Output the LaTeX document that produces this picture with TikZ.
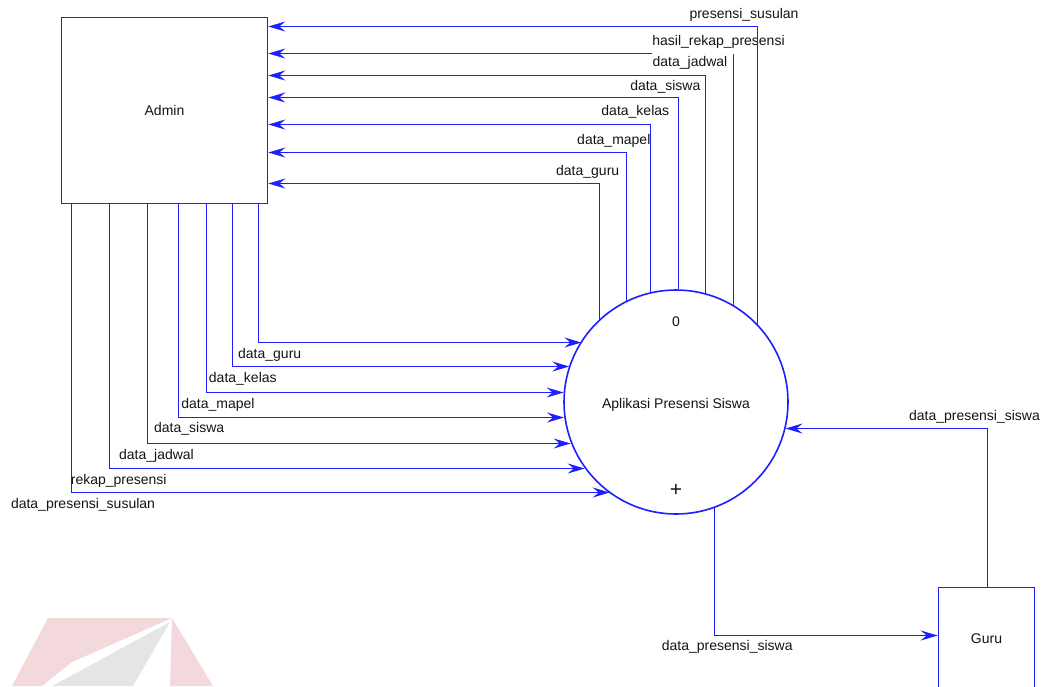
\documentclass[tikz,border=0pt]{standalone}
\usepackage{fontspec}
\setmainfont{Liberation Sans}
\usetikzlibrary{arrows.meta}
\definecolor{flowblue}{RGB}{30,30,255}
\definecolor{txt}{RGB}{20,20,20}
\definecolor{wmpink}{RGB}{243,216,220}
\definecolor{wmgrey}{RGB}{229,229,229}
\begin{document}
\begin{tikzpicture}[x=1pt,y=-1pt,
  every node/.style={font=\fontsize{14}{16}\selectfont,text=txt},
  flow/.style={color=flowblue,line width=1.6pt,-{Stealth[length=17pt,width=10pt,inset=6pt,fill=flowblue]}},
  entity/.style={draw=flowblue,line width=1.6pt,fill=white,rectangle,inner sep=0pt},
  procshape/.style={draw=flowblue,line width=1.6pt,fill=white,circle,minimum size=224pt,inner sep=0pt},
  lbl/.style={anchor=base,inner sep=0pt},
  coverlbl/.style={anchor=base,inner xsep=0pt,inner ysep=0pt,fill=white,text depth=8pt}]
\useasboundingbox (0,0) rectangle (1046,686);
% watermark
\fill[wmpink] (48,618) -- (172,618) -- (72,662) -- (42,686) -- (12,686) -- cycle;
\fill[wmgrey] (170,622) -- (133,686) -- (52,686) -- cycle;
\fill[wmpink] (172,618) -- (213,686) -- (170,686) -- cycle;
% nodes
\node[entity,minimum width=206pt,minimum height=186pt] (admin) at (164.5,110.5) {Admin};
\node[procshape] (p0) at (676,402) {};
\node[lbl] (pnum) at (676,326) {0};
\node[lbl] (pname) at (676,408) {Aplikasi Presensi Siswa};
\node[lbl,font=\fontsize{21}{24}\selectfont] (pplus) at (676,496) {+};
\node[entity,minimum width=96pt,minimum height=103pt] (guru) at (986.5,639) {Guru};
% flows from process to admin
\draw[flow] (599.5,0 |- p0.133.43) |- (admin.east |- 0,183.5);
\draw[flow] (626.5,0 |- p0.116.51) |- (admin.east |- 0,152.5);
\draw[flow] (650.5,0 |- p0.103.42) |- (admin.east |- 0,124.5);
\draw[flow] (678.5,0 |- p0.88.98) |- (admin.east |- 0,97.5);
\draw[flow] (705.5,0 |- p0.74.99) |- (admin.east |- 0,75.5);
\draw[flow] (733.5,0 |- p0.59.41) |- (admin.east |- 0,53.5);
% flows from admin to process
\draw[flow] (258.5,0 |- admin.south) |- (p0.147.79 |- 0,342.5);
\draw[flow] (232.5,0 |- admin.south) |- (p0.161.25 |- 0,366.5);
\draw[flow] (206.5,0 |- admin.south) |- (p0.175.24 |- 0,392.5);
\draw[flow] (178.5,0 |- admin.south) |- (p0.187.70 |- 0,417.5);
\draw[flow] (147.5,0 |- admin.south) |- (p0.201.64 |- 0,443.5);
\draw[flow] (109.5,0 |- admin.south) |- (p0.216.55 |- 0,468.5);
\draw[flow] (71.5,0 |- admin.south) |- (p0.234.07 |- 0,492.5);
% guru flows
\draw[flow] (987.5,0 |- guru.north) |- (p0.346.42 |- 0,428.5);
\draw[flow] (714.5,0 |- p0.290) |- (guru.west |- 0,635.5);
% labels top
\node[coverlbl] (lhasil) at (718.5,45.7) {hasil\_rekap\_presensi};
\draw[flow] (757.5,0 |- p0.43.68) |- (admin.east |- 0,26.5);
\node[lbl] (lsusulan) at (744,18) {presensi\_susulan};
\node[lbl] (ljadwal) at (690,66.7) {data\_jadwal};
\node[lbl] (lsiswa) at (665.3,90) {data\_siswa};
\node[lbl] (lkelas) at (635.3,115.7) {data\_kelas};
\node[lbl] (lmapel) at (613.8,144.7) {data\_mapel};
\node[lbl] (lguru) at (587.7,175) {data\_guru};
% labels bottom left
\node[lbl] (bguru) at (269.7,358.3) {data\_guru};
\node[lbl] (bkelas) at (242.8,382.3) {data\_kelas};
\node[lbl] (bmapel) at (218,408.3) {data\_mapel};
\node[lbl] (bsiswa) at (189.2,432.3) {data\_siswa};
\node[lbl] (bjadwal) at (156.5,459.7) {data\_jadwal};
\node[lbl] (brekap) at (118.7,484.7) {rekap\_presensi};
\node[lbl] (bsusulan) at (83,508.3) {data\_presensi\_susulan};
% labels right
\node[lbl] (rpres) at (974.5,420.7) {data\_presensi\_siswa};
\node[lbl] (gpres) at (727.2,650.7) {data\_presensi\_siswa};
\end{tikzpicture}
\end{document}
